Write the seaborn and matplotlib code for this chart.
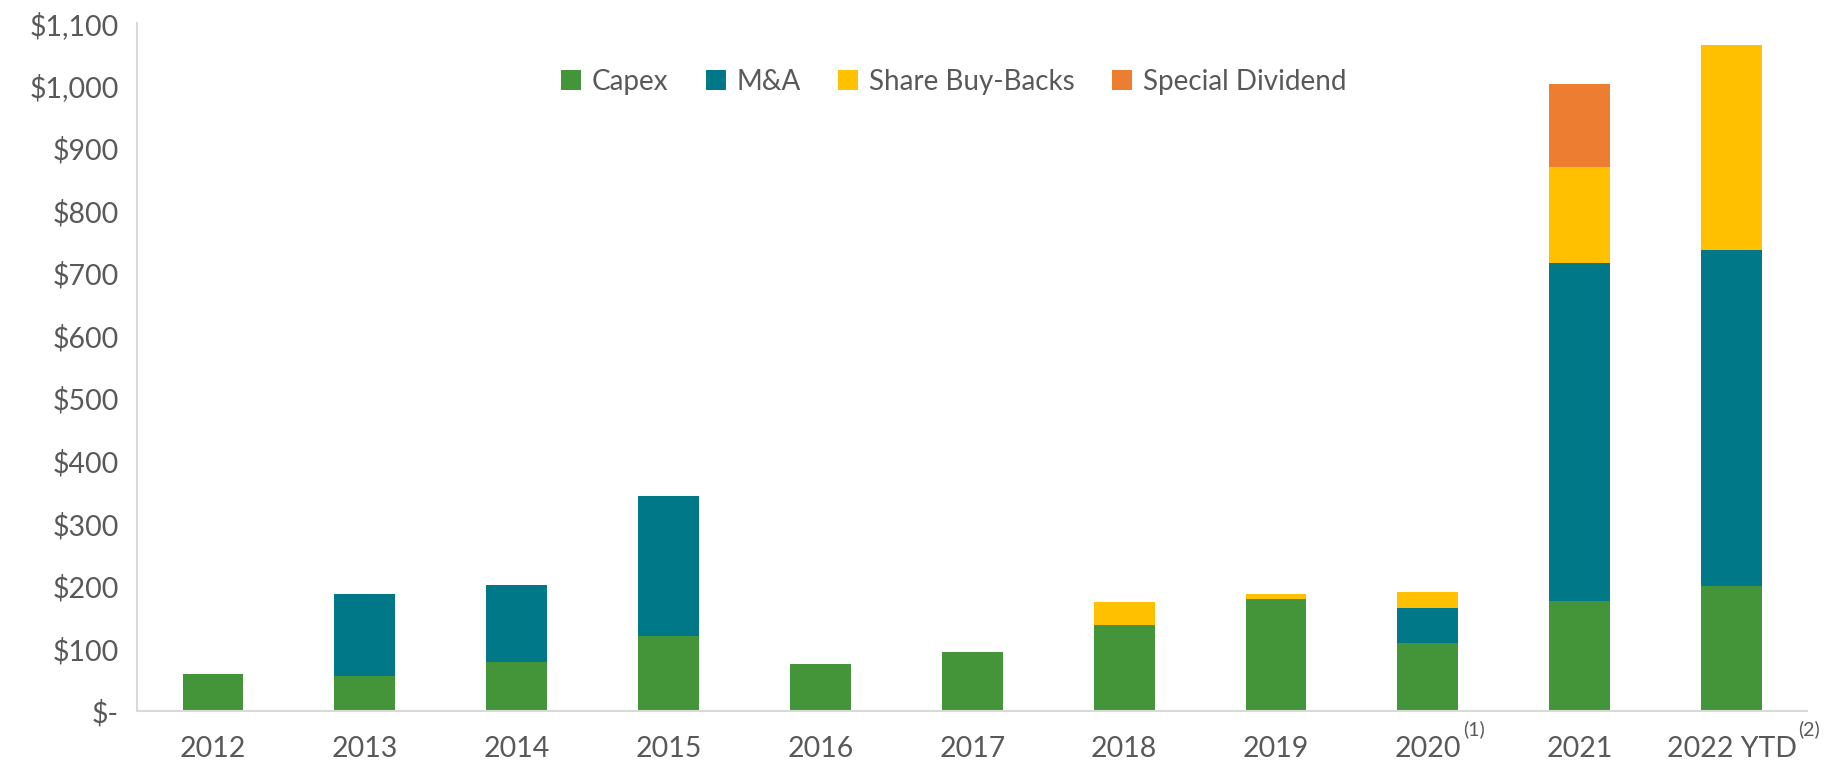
import matplotlib
matplotlib.use("Agg")
import matplotlib.pyplot as plt
from matplotlib.patches import Patch
from matplotlib.ticker import FuncFormatter, MultipleLocator
import numpy as np
import seaborn as sns

# Capital allocation by year ($ millions)
years = ["2012", "2013", "2014", "2015", "2016", "2017", "2018", "2019", "2020", "2021", "2022 YTD"]
footnotes = {"2020": "(1)", "2022 YTD": "(2)"}
capex = [60, 56, 79, 121, 76, 95, 138, 180, 110, 177, 201]
mna = [0, 132, 123, 223, 0, 0, 0, 0, 56, 540, 536]
buybacks = [0, 0, 0, 0, 0, 0, 37, 8, 25, 153, 328]
special_div = [0, 0, 0, 0, 0, 0, 0, 0, 0, 133, 0]

series_names = ["Capex", "M&A", "Share Buy-Backs", "Special Dividend"]
series_values = [capex, mna, buybacks, special_div]
series_colors = ["#44953A", "#017888", "#FFC000", "#ED7D31"]

sns.set_theme(style="white")
plt.rcParams["font.family"] = ["Lato", "DejaVu Sans"]
text_color = "#595959"
label_size = 20.5
dpi = 100

fig = plt.figure(figsize=(18.35, 7.78), dpi=dpi)
ax = fig.add_axes([0.0747, 0.0855, 0.9103, 0.8845])

# Stack by drawing cumulative totals, tallest layer first
cum = np.cumsum(np.array(series_values, dtype=float), axis=0)
for i in range(len(series_names) - 1, -1, -1):
    sns.barplot(x=years, y=cum[i], order=years, color=series_colors[i],
                saturation=1, width=0.4, linewidth=0, ax=ax)

ax.set_xlim(-0.5, len(years) - 0.5)
ax.set_ylim(0, 1100)
ax.yaxis.set_major_locator(MultipleLocator(100))
ax.yaxis.set_major_formatter(FuncFormatter(lambda v, p: "$-" if v == 0 else f"${v:,.0f}"))
ax.set_xlabel("")
ax.set_ylabel("")
ax.tick_params(axis="both", length=0, colors=text_color, labelsize=label_size)
ax.tick_params(axis="y", pad=13)
ax.tick_params(axis="x", pad=18)

for side in ["top", "right"]:
    ax.spines[side].set_visible(False)
for side in ["left", "bottom"]:
    ax.spines[side].set_color("#D9D9D9")
    ax.spines[side].set_linewidth(1.5)

handles = [Patch(facecolor=c, edgecolor="none") for c in series_colors]
ax.legend(handles, series_names, ncol=4, loc="center", bbox_to_anchor=(0.489, 0.915),
          frameon=False, fontsize=20, labelcolor=text_color, handlelength=0.7,
          handleheight=0.7, handletextpad=0.4, columnspacing=1.35)

# Footnote markers after selected category labels, raised as superscripts
fig.canvas.draw()
renderer = fig.canvas.get_renderer()
inv = fig.transFigure.inverted()
for lbl in ax.get_xticklabels():
    mark = footnotes.get(lbl.get_text())
    if mark:
        bb = lbl.get_window_extent(renderer)
        x0, y0 = inv.transform((bb.x1 + 2, bb.y1 + 1))
        fig.text(x0, y0, mark, fontsize=14, color=text_color, ha="left", va="baseline")

fig.savefig("out.png", dpi=dpi)
